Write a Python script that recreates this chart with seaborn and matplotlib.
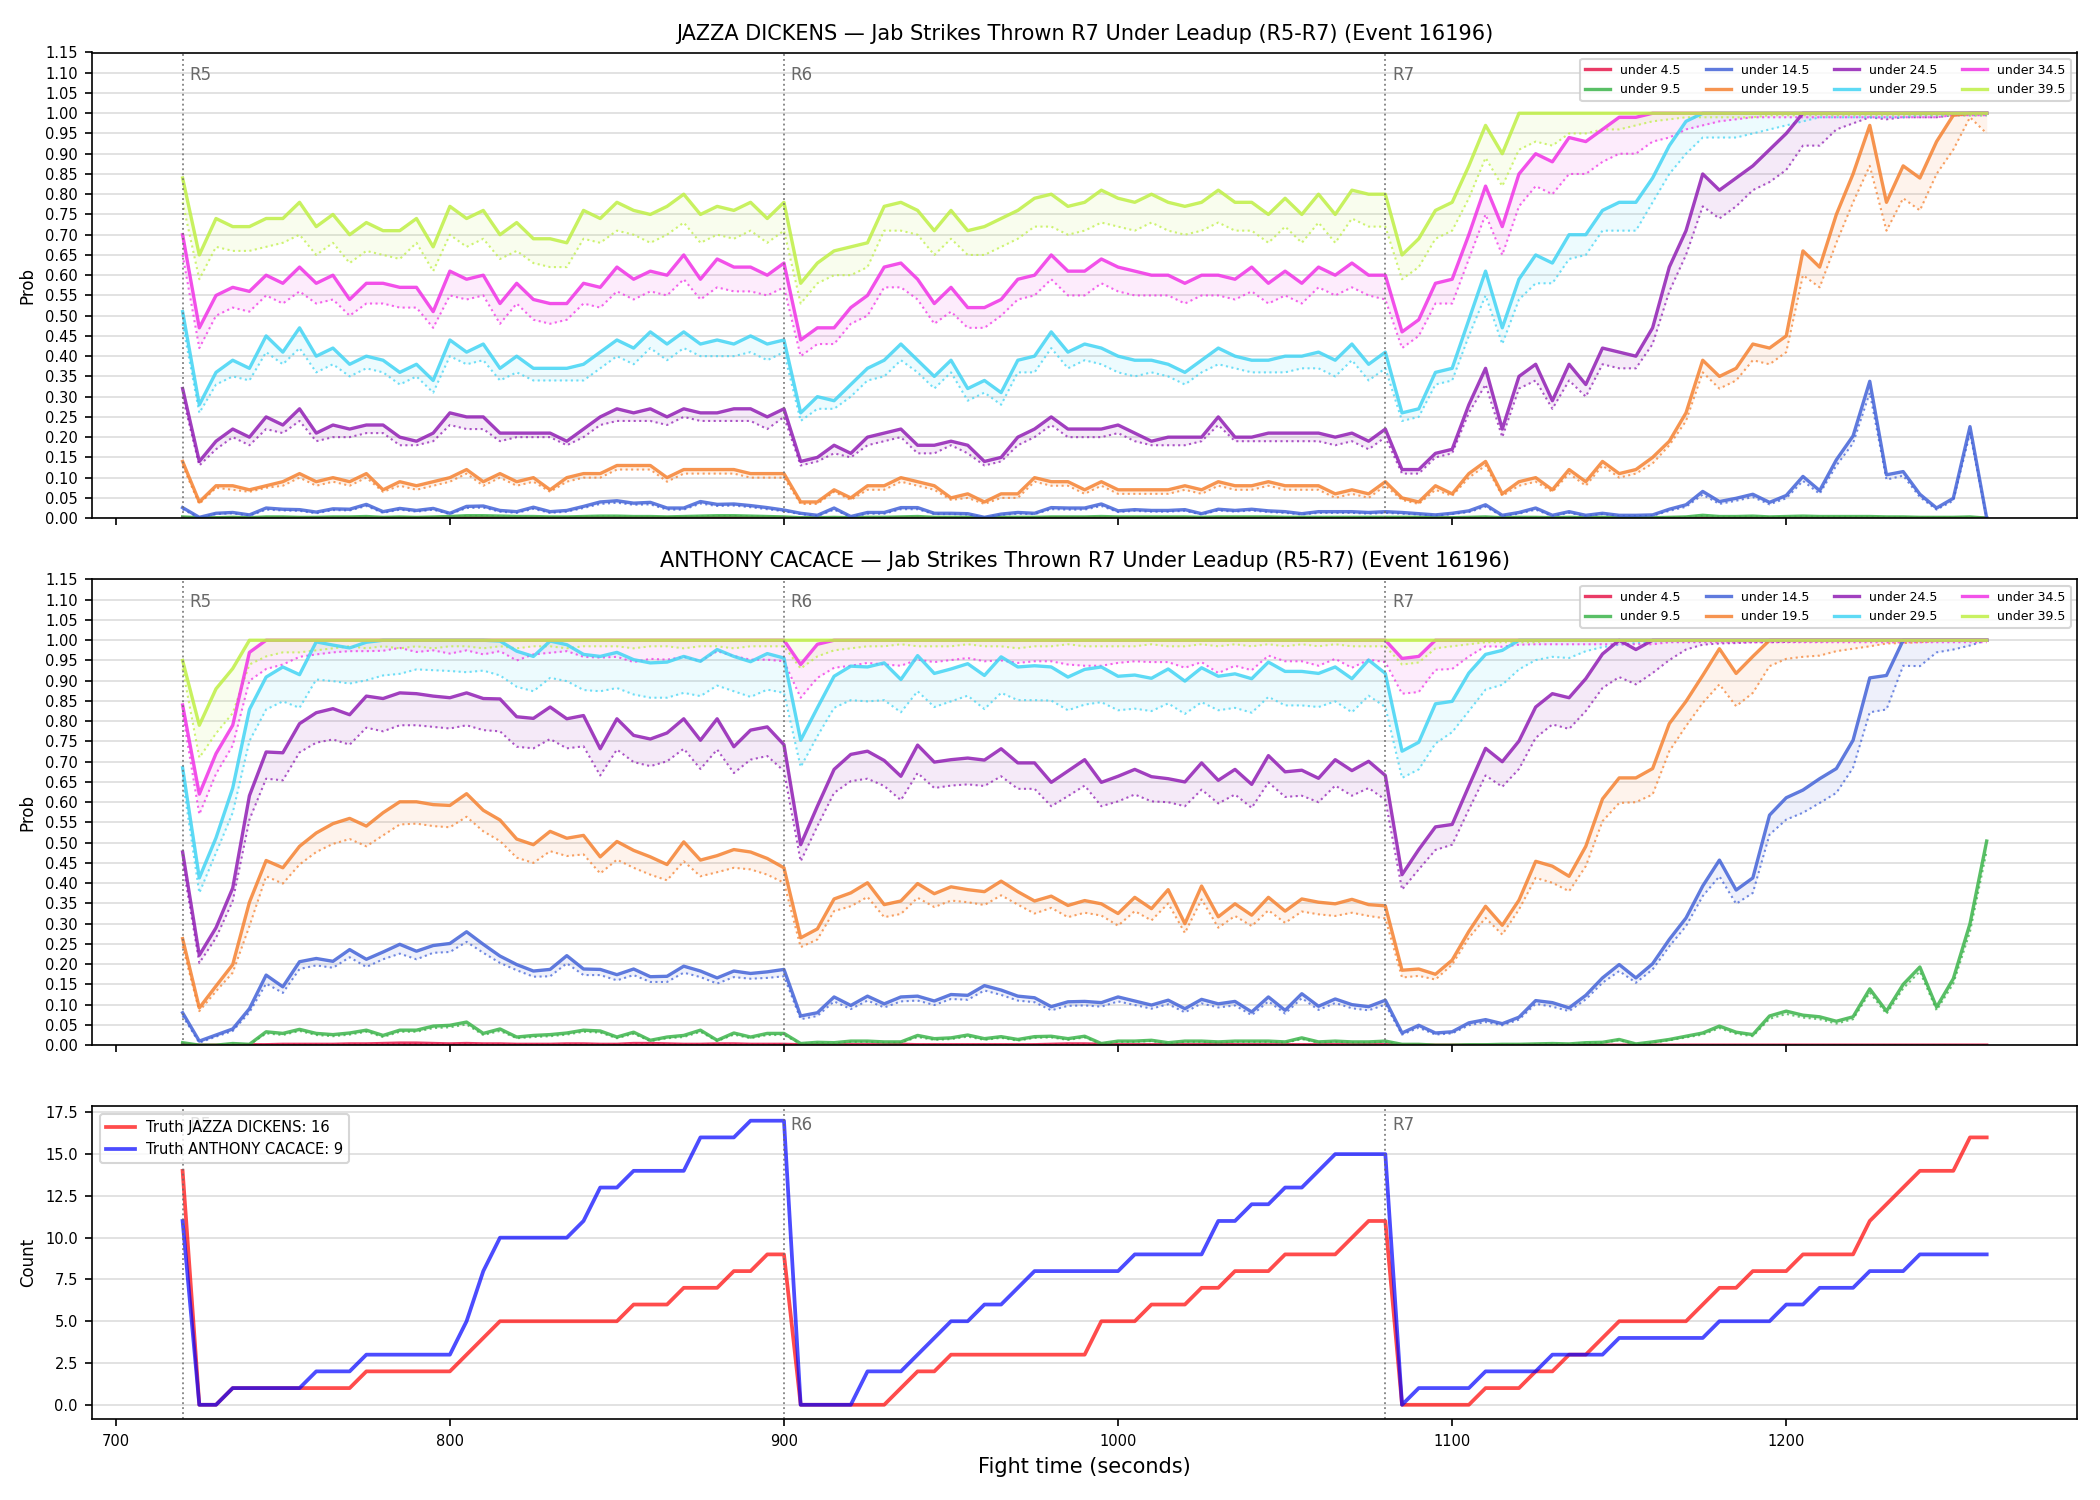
import numpy as np
import pandas as pd
import matplotlib
matplotlib.use("Agg")
import matplotlib.pyplot as plt
import seaborn as sns

# fight time grid, one sample every 5 s from R5 start to end of R7
fight_t = np.arange(720, 1261, 5)

thresholds = ['under 4.5', 'under 9.5', 'under 14.5', 'under 19.5',
              'under 24.5', 'under 29.5', 'under 34.5', 'under 39.5']
colors = ['#e6194b', '#3cb44b', '#4363d8', '#f58231',
          '#911eb4', '#42d4f4', '#f032e6', '#bfef45']

rounds = ['R5', 'R6', 'R7']
round_starts = [720, 900, 1080]

# ---------------- JAZZA DICKENS (top panel) ----------------
jd_u4 = ([0.001, 0.0, 0.0, 0.001, 0.0, 0.001, 0.001, 0.001, 0.001, 0.001,
          0.001, 0.001, 0.001, 0.001, 0.001, 0.001, 0.002, 0.002, 0.002, 0.001,
          0.001, 0.001, 0.001, 0.001, 0.001, 0.001, 0.001, 0.001, 0.001, 0.001,
          0.001, 0.001, 0.002, 0.002, 0.001, 0.001]
         + [0.001, 0.0, 0.0, 0.0, 0.0, 0.0, 0.0, 0.001, 0.001, 0.0,
            0.0, 0.0, 0.0, 0.0, 0.0, 0.0, 0.001, 0.001, 0.001, 0.001,
            0.001, 0.001, 0.001, 0.001, 0.001, 0.0, 0.001, 0.001, 0.001, 0.001,
            0.0, 0.0, 0.0, 0.0, 0.0, 0.0]
         + [0.0] * 37)
jd_u4_lo = [v * 0.5 for v in jd_u4]

jd_u9 = [0.003, 0.001, 0.001, 0.002, 0.001, 0.003, 0.003, 0.002, 0.002, 0.003,
         0.003, 0.004, 0.002, 0.003, 0.002, 0.003, 0.004, 0.006, 0.006, 0.005,
         0.004, 0.004, 0.003, 0.003, 0.004, 0.005, 0.005, 0.004, 0.004, 0.003,
         0.004, 0.005, 0.006, 0.006, 0.005, 0.004,
         0.003, 0.001, 0.001, 0.002, 0.001, 0.002, 0.002, 0.003, 0.004, 0.002,
         0.002, 0.002, 0.001, 0.002, 0.002, 0.002, 0.003, 0.003, 0.003, 0.004,
         0.003, 0.003, 0.003, 0.003, 0.003, 0.002, 0.003, 0.003, 0.003, 0.003,
         0.002, 0.002, 0.002, 0.002, 0.002, 0.002,
         0.002, 0.002, 0.002, 0.001, 0.001, 0.002, 0.003, 0.001, 0.002, 0.002,
         0.001, 0.002, 0.001, 0.002, 0.001, 0.001, 0.001, 0.002, 0.003, 0.007,
         0.004, 0.004, 0.005, 0.003, 0.004, 0.005, 0.004, 0.004, 0.004, 0.004,
         0.003, 0.003, 0.002, 0.002, 0.002, 0.003, 0.0]
jd_u9_lo = [0.002, 0.001, 0.001, 0.001, 0.001, 0.002, 0.002, 0.001, 0.001, 0.002,
            0.002, 0.003, 0.001, 0.002, 0.001, 0.002, 0.003, 0.005, 0.005, 0.004,
            0.003, 0.003, 0.002, 0.002, 0.003, 0.004, 0.004, 0.003, 0.003, 0.002,
            0.003, 0.004, 0.005, 0.005, 0.004, 0.003,
            0.002, 0.001, 0.001, 0.001, 0.001, 0.001, 0.001, 0.002, 0.003, 0.001,
            0.001, 0.001, 0.001, 0.001, 0.001, 0.001, 0.002, 0.002, 0.002, 0.003,
            0.002, 0.002, 0.002, 0.002, 0.002, 0.001, 0.002, 0.002, 0.002, 0.002,
            0.001, 0.001, 0.001, 0.001, 0.001, 0.001,
            0.001, 0.001, 0.001, 0.001, 0.001, 0.001, 0.002, 0.001, 0.001, 0.001,
            0.001, 0.001, 0.001, 0.001, 0.001, 0.001, 0.001, 0.001, 0.002, 0.005,
            0.003, 0.003, 0.004, 0.002, 0.003, 0.004, 0.003, 0.003, 0.003, 0.003,
            0.002, 0.002, 0.001, 0.001, 0.001, 0.002, 0.0]

jd_u14 = [0.026, 0.002, 0.012, 0.014, 0.008, 0.025, 0.022, 0.021, 0.015, 0.023,
          0.022, 0.034, 0.016, 0.024, 0.019, 0.024, 0.012, 0.029, 0.030, 0.019,
          0.016, 0.027, 0.016, 0.019, 0.029, 0.040, 0.043, 0.037, 0.039, 0.025,
          0.025, 0.041, 0.034, 0.035, 0.031, 0.026,
          0.020, 0.012, 0.007, 0.025, 0.004, 0.014, 0.014, 0.026, 0.026, 0.012,
          0.012, 0.011, 0.002, 0.010, 0.014, 0.012, 0.026, 0.025, 0.025, 0.035,
          0.018, 0.021, 0.019, 0.019, 0.021, 0.011, 0.022, 0.019, 0.022, 0.018,
          0.016, 0.011, 0.016, 0.016, 0.016, 0.014,
          0.016, 0.014, 0.011, 0.008, 0.012, 0.018, 0.033, 0.007, 0.014, 0.025,
          0.007, 0.016, 0.007, 0.012, 0.007, 0.007, 0.008, 0.022, 0.033, 0.066,
          0.041, 0.049, 0.059, 0.039, 0.056, 0.103, 0.068, 0.144, 0.203, 0.338,
          0.107, 0.115, 0.059, 0.025, 0.049, 0.226, 0.0]
jd_u14_lo = [0.022, 0.001, 0.010, 0.012, 0.006, 0.021, 0.019, 0.018, 0.012, 0.020,
             0.019, 0.030, 0.013, 0.021, 0.016, 0.021, 0.010, 0.025, 0.026, 0.016,
             0.013, 0.023, 0.013, 0.016, 0.025, 0.035, 0.038, 0.033, 0.034, 0.021,
             0.021, 0.036, 0.030, 0.031, 0.027, 0.022,
             0.017, 0.010, 0.005, 0.021, 0.003, 0.011, 0.011, 0.022, 0.022, 0.010,
             0.010, 0.009, 0.001, 0.008, 0.011, 0.010, 0.022, 0.021, 0.021, 0.030,
             0.015, 0.018, 0.016, 0.016, 0.018, 0.009, 0.019, 0.016, 0.019, 0.015,
             0.013, 0.009, 0.013, 0.013, 0.013, 0.011,
             0.013, 0.011, 0.009, 0.006, 0.010, 0.015, 0.028, 0.005, 0.011, 0.021,
             0.005, 0.013, 0.005, 0.010, 0.005, 0.005, 0.006, 0.018, 0.028, 0.058,
             0.035, 0.043, 0.052, 0.034, 0.049, 0.092, 0.060, 0.130, 0.185, 0.310,
             0.095, 0.105, 0.052, 0.021, 0.043, 0.210, 0.0]

jd_u19 = [0.14, 0.04, 0.08, 0.08, 0.07, 0.08, 0.09, 0.11, 0.09, 0.10,
          0.09, 0.11, 0.07, 0.09, 0.08, 0.09, 0.10, 0.12, 0.09, 0.11,
          0.09, 0.10, 0.07, 0.10, 0.11, 0.11, 0.13, 0.13, 0.13, 0.10,
          0.12, 0.12, 0.12, 0.12, 0.11, 0.11,
          0.11, 0.04, 0.04, 0.07, 0.05, 0.08, 0.08, 0.10, 0.09, 0.08,
          0.05, 0.06, 0.04, 0.06, 0.06, 0.10, 0.09, 0.09, 0.07, 0.09,
          0.07, 0.07, 0.07, 0.07, 0.08, 0.07, 0.09, 0.08, 0.08, 0.09,
          0.08, 0.08, 0.08, 0.06, 0.07, 0.06,
          0.09, 0.05, 0.04, 0.08, 0.06, 0.11, 0.14, 0.06, 0.09, 0.10,
          0.07, 0.12, 0.09, 0.14, 0.11, 0.12, 0.15, 0.19, 0.26, 0.39,
          0.35, 0.37, 0.43, 0.42, 0.45, 0.66, 0.62, 0.75, 0.85, 0.97,
          0.78, 0.87, 0.84, 0.93, 0.995, 1.0, 1.0]
jd_u19_lo = [0.13, 0.035, 0.075, 0.07, 0.065, 0.075, 0.08, 0.10, 0.08, 0.09,
             0.08, 0.10, 0.065, 0.08, 0.07, 0.08, 0.09, 0.11, 0.08, 0.10,
             0.08, 0.09, 0.065, 0.09, 0.10, 0.10, 0.12, 0.12, 0.12, 0.09,
             0.11, 0.11, 0.11, 0.11, 0.10, 0.10,
             0.10, 0.035, 0.035, 0.065, 0.045, 0.07, 0.07, 0.09, 0.08, 0.07,
             0.045, 0.05, 0.035, 0.05, 0.05, 0.09, 0.08, 0.08, 0.06, 0.08,
             0.06, 0.06, 0.06, 0.06, 0.07, 0.06, 0.08, 0.07, 0.07, 0.08,
             0.07, 0.07, 0.07, 0.05, 0.06, 0.05,
             0.08, 0.045, 0.035, 0.07, 0.055, 0.10, 0.13, 0.055, 0.08, 0.09,
             0.065, 0.11, 0.08, 0.13, 0.10, 0.11, 0.135, 0.18, 0.24, 0.36,
             0.32, 0.34, 0.39, 0.38, 0.41, 0.60, 0.57, 0.68, 0.78, 0.87,
             0.71, 0.79, 0.76, 0.85, 0.91, 0.99, 0.95]

jd_u24 = ([0.32, 0.14, 0.19, 0.22, 0.20, 0.25, 0.23, 0.27, 0.21, 0.23,
           0.22, 0.23, 0.23, 0.20, 0.19, 0.21, 0.26, 0.25, 0.25, 0.21,
           0.21, 0.21, 0.21, 0.19, 0.22, 0.25, 0.27, 0.26, 0.27, 0.25,
           0.27, 0.26, 0.26, 0.27, 0.27, 0.25,
           0.27, 0.14, 0.15, 0.18, 0.16, 0.20, 0.21, 0.22, 0.18, 0.18,
           0.19, 0.18, 0.14, 0.15, 0.20, 0.22, 0.25, 0.22, 0.22, 0.22,
           0.23, 0.21, 0.19, 0.20, 0.20, 0.20, 0.25, 0.20, 0.20, 0.21,
           0.21, 0.21, 0.21, 0.20, 0.21, 0.19,
           0.22, 0.12, 0.12, 0.16, 0.17, 0.28, 0.37, 0.22, 0.35, 0.38,
           0.29, 0.38, 0.33, 0.42, 0.41, 0.40, 0.47, 0.62, 0.71, 0.85,
           0.81, 0.84, 0.87, 0.91, 0.95] + [1.0] * 12)
jd_u24_lo = [0.30, 0.13, 0.17, 0.20, 0.18, 0.22, 0.21, 0.24, 0.19, 0.20,
             0.20, 0.21, 0.21, 0.18, 0.18, 0.19, 0.23, 0.22, 0.22, 0.19,
             0.20, 0.20, 0.20, 0.18, 0.20, 0.23, 0.24, 0.24, 0.24, 0.23,
             0.25, 0.24, 0.24, 0.24, 0.24, 0.22,
             0.25, 0.13, 0.14, 0.16, 0.15, 0.18, 0.19, 0.20, 0.16, 0.16,
             0.18, 0.16, 0.13, 0.14, 0.18, 0.20, 0.23, 0.20, 0.20, 0.20,
             0.21, 0.19, 0.18, 0.18, 0.18, 0.19, 0.23, 0.19, 0.19, 0.19,
             0.19, 0.19, 0.19, 0.18, 0.19, 0.17,
             0.20, 0.11, 0.11, 0.15, 0.16, 0.26, 0.33, 0.20, 0.32, 0.34,
             0.27, 0.34, 0.30, 0.38, 0.37, 0.37, 0.43, 0.56, 0.65, 0.77,
             0.74, 0.77, 0.81, 0.83, 0.86, 0.92, 0.92, 0.96, 0.975, 0.99,
             0.985, 0.99, 0.99, 0.99, 0.995, 0.995, 0.995]

jd_u29 = ([0.51, 0.28, 0.36, 0.39, 0.37, 0.45, 0.41, 0.47, 0.40, 0.42,
           0.38, 0.40, 0.39, 0.36, 0.38, 0.34, 0.44, 0.41, 0.43, 0.37,
           0.40, 0.37, 0.37, 0.37, 0.38, 0.41, 0.44, 0.42, 0.46, 0.43,
           0.46, 0.43, 0.44, 0.43, 0.45, 0.43,
           0.44, 0.26, 0.30, 0.29, 0.33, 0.37, 0.39, 0.43, 0.39, 0.35,
           0.39, 0.32, 0.34, 0.31, 0.39, 0.40, 0.46, 0.41, 0.43, 0.42,
           0.40, 0.39, 0.39, 0.38, 0.36, 0.39, 0.42, 0.40, 0.39, 0.39,
           0.40, 0.40, 0.41, 0.39, 0.43, 0.38,
           0.41, 0.26, 0.27, 0.36, 0.37, 0.49, 0.61, 0.47, 0.59, 0.65,
           0.63, 0.70, 0.70, 0.76, 0.78, 0.78, 0.84, 0.92, 0.98] + [1.0] * 18)
jd_u29_lo = [0.48, 0.26, 0.33, 0.35, 0.34, 0.41, 0.38, 0.42, 0.36, 0.38,
             0.35, 0.37, 0.36, 0.33, 0.35, 0.31, 0.40, 0.38, 0.39, 0.34,
             0.36, 0.34, 0.34, 0.34, 0.34, 0.37, 0.40, 0.38, 0.42, 0.39,
             0.42, 0.40, 0.40, 0.40, 0.41, 0.39,
             0.41, 0.24, 0.27, 0.27, 0.30, 0.34, 0.35, 0.39, 0.36, 0.32,
             0.36, 0.29, 0.31, 0.28, 0.36, 0.36, 0.42, 0.37, 0.39, 0.38,
             0.36, 0.35, 0.36, 0.35, 0.33, 0.36, 0.38, 0.37, 0.36, 0.36,
             0.36, 0.37, 0.37, 0.35, 0.39, 0.34,
             0.37, 0.24, 0.25, 0.33, 0.34, 0.45, 0.55, 0.43, 0.54, 0.58,
             0.58, 0.64, 0.65, 0.71, 0.71, 0.71, 0.78, 0.85, 0.90, 0.94,
             0.94, 0.94, 0.95, 0.96, 0.97, 0.98, 0.99, 0.99, 0.99, 0.99,
             0.99, 0.99, 0.995, 0.995, 0.995, 0.995, 0.995]

jd_u34 = ([0.70, 0.47, 0.55, 0.57, 0.56, 0.60, 0.58, 0.62, 0.58, 0.60,
           0.54, 0.58, 0.58, 0.57, 0.57, 0.51, 0.61, 0.59, 0.60, 0.53,
           0.58, 0.54, 0.53, 0.53, 0.58, 0.57, 0.62, 0.59, 0.61, 0.60,
           0.65, 0.59, 0.64, 0.62, 0.62, 0.60,
           0.63, 0.44, 0.47, 0.47, 0.52, 0.55, 0.62, 0.63, 0.59, 0.53,
           0.57, 0.52, 0.52, 0.54, 0.59, 0.60, 0.65, 0.61, 0.61, 0.64,
           0.62, 0.61, 0.60, 0.60, 0.58, 0.60, 0.60, 0.59, 0.62, 0.58,
           0.61, 0.58, 0.62, 0.60, 0.63, 0.60,
           0.60, 0.46, 0.49, 0.58, 0.59, 0.70, 0.82, 0.72, 0.85, 0.90,
           0.88, 0.94, 0.93, 0.96, 0.99, 0.99] + [1.0] * 21)
jd_u34_lo = [0.65, 0.42, 0.50, 0.52, 0.51, 0.55, 0.53, 0.56, 0.53, 0.54,
             0.50, 0.53, 0.53, 0.52, 0.52, 0.47, 0.55, 0.54, 0.55, 0.48,
             0.53, 0.49, 0.48, 0.49, 0.53, 0.52, 0.56, 0.54, 0.56, 0.55,
             0.59, 0.54, 0.57, 0.56, 0.56, 0.55,
             0.57, 0.40, 0.43, 0.43, 0.48, 0.50, 0.57, 0.57, 0.54, 0.48,
             0.51, 0.47, 0.47, 0.50, 0.54, 0.55, 0.59, 0.55, 0.55, 0.58,
             0.56, 0.55, 0.55, 0.55, 0.53, 0.55, 0.55, 0.54, 0.56, 0.53,
             0.55, 0.53, 0.57, 0.55, 0.57, 0.55,
             0.54, 0.42, 0.45, 0.53, 0.53, 0.64, 0.75, 0.65, 0.77, 0.82,
             0.80, 0.85, 0.85, 0.88, 0.90, 0.90, 0.93, 0.94, 0.96, 0.97,
             0.98, 0.985, 0.99, 0.99, 0.99, 0.99, 0.99, 0.99, 0.99, 0.99,
             0.99, 0.99, 0.99, 0.99, 0.995, 0.995, 0.995]

jd_u39 = ([0.84, 0.65, 0.74, 0.72, 0.72, 0.74, 0.74, 0.78, 0.72, 0.75,
           0.70, 0.73, 0.71, 0.71, 0.74, 0.67, 0.77, 0.74, 0.76, 0.70,
           0.73, 0.69, 0.69, 0.68, 0.76, 0.74, 0.78, 0.76, 0.75, 0.77,
           0.80, 0.75, 0.77, 0.76, 0.78, 0.74,
           0.78, 0.58, 0.63, 0.66, 0.67, 0.68, 0.77, 0.78, 0.76, 0.71,
           0.76, 0.71, 0.72, 0.74, 0.76, 0.79, 0.80, 0.77, 0.78, 0.81,
           0.79, 0.78, 0.80, 0.78, 0.77, 0.78, 0.81, 0.78, 0.78, 0.75,
           0.79, 0.75, 0.80, 0.75, 0.81, 0.80,
           0.80, 0.65, 0.69, 0.76, 0.78, 0.87, 0.97, 0.90] + [1.0] * 29)
jd_u39_lo = [0.78, 0.59, 0.67, 0.66, 0.66, 0.67, 0.68, 0.70, 0.65, 0.68,
             0.63, 0.66, 0.65, 0.64, 0.68, 0.61, 0.70, 0.67, 0.69, 0.64,
             0.66, 0.63, 0.62, 0.62, 0.69, 0.68, 0.71, 0.70, 0.68, 0.70,
             0.73, 0.68, 0.70, 0.69, 0.71, 0.68,
             0.71, 0.53, 0.58, 0.60, 0.60, 0.62, 0.71, 0.71, 0.70, 0.65,
             0.69, 0.65, 0.65, 0.67, 0.69, 0.72, 0.72, 0.70, 0.71, 0.73,
             0.72, 0.71, 0.73, 0.71, 0.70, 0.71, 0.73, 0.71, 0.71, 0.68,
             0.72, 0.68, 0.73, 0.68, 0.74, 0.72,
             0.72, 0.59, 0.62, 0.69, 0.71, 0.79, 0.89, 0.82, 0.91, 0.93,
             0.92, 0.95, 0.95, 0.96, 0.96, 0.97, 0.98, 0.985, 0.99, 0.99,
             0.99, 0.99, 0.99, 0.995, 0.995, 0.995, 0.995, 0.995, 0.995, 0.995,
             0.995, 0.995, 0.995, 0.995, 0.995, 0.995, 0.995]

# ---------------- ANTHONY CACACE (middle panel) ----------------
ac_u4 = ([0.002, 0.0, 0.0, 0.0, 0.001, 0.001, 0.002, 0.002, 0.002, 0.002,
          0.003, 0.003, 0.004, 0.005, 0.005, 0.004, 0.003, 0.004, 0.003, 0.003,
          0.002, 0.002, 0.002, 0.003, 0.003, 0.002, 0.002, 0.004, 0.004, 0.003,
          0.002, 0.002, 0.003, 0.003, 0.002, 0.002,
          0.002, 0.001, 0.001, 0.001, 0.001, 0.001, 0.001, 0.002, 0.001, 0.001,
          0.001, 0.001, 0.001, 0.001, 0.001, 0.001, 0.002, 0.003, 0.003, 0.002,
          0.001, 0.001, 0.001, 0.001, 0.001, 0.001, 0.002, 0.001, 0.001, 0.001,
          0.001, 0.001, 0.001, 0.001, 0.001, 0.001]
         + [0.001] * 3 + [0.0] * 34)
ac_u4_lo = [v * 0.6 for v in ac_u4]

ac_u9 = [0.006, 0.0, 0.0, 0.004, 0.002, 0.033, 0.029, 0.039, 0.029, 0.026,
         0.030, 0.037, 0.024, 0.037, 0.037, 0.047, 0.049, 0.057, 0.029, 0.040,
         0.020, 0.024, 0.026, 0.030, 0.037, 0.035, 0.020, 0.032, 0.012, 0.020,
         0.024, 0.037, 0.012, 0.030, 0.020, 0.029,
         0.029, 0.004, 0.007, 0.006, 0.010, 0.010, 0.008, 0.008, 0.024, 0.016,
         0.018, 0.025, 0.016, 0.021, 0.014, 0.021, 0.022, 0.016, 0.022, 0.004,
         0.010, 0.010, 0.012, 0.006, 0.010, 0.010, 0.008, 0.010, 0.010, 0.010,
         0.008, 0.018, 0.008, 0.010, 0.008, 0.008,
         0.010, 0.002, 0.002, 0.0, 0.0, 0.001, 0.001, 0.002, 0.002, 0.003,
         0.004, 0.003, 0.006, 0.007, 0.014, 0.003, 0.008, 0.014, 0.022, 0.030,
         0.047, 0.032, 0.026, 0.072, 0.084, 0.074, 0.070, 0.059, 0.070, 0.139,
         0.084, 0.150, 0.193, 0.094, 0.164, 0.300, 0.504]
ac_u9_lo = [0.004, 0.0, 0.0, 0.003, 0.001, 0.029, 0.025, 0.035, 0.025, 0.022,
            0.026, 0.033, 0.020, 0.033, 0.033, 0.042, 0.044, 0.051, 0.025, 0.035,
            0.017, 0.020, 0.022, 0.026, 0.033, 0.031, 0.017, 0.028, 0.010, 0.017,
            0.020, 0.033, 0.010, 0.026, 0.017, 0.025,
            0.025, 0.003, 0.005, 0.004, 0.008, 0.008, 0.006, 0.006, 0.020, 0.013,
            0.015, 0.021, 0.013, 0.018, 0.011, 0.018, 0.019, 0.013, 0.019, 0.003,
            0.008, 0.008, 0.010, 0.004, 0.008, 0.008, 0.006, 0.008, 0.008, 0.008,
            0.006, 0.015, 0.006, 0.008, 0.006, 0.006,
            0.008, 0.001, 0.001, 0.0, 0.0, 0.0, 0.0, 0.001, 0.001, 0.002,
            0.003, 0.002, 0.005, 0.006, 0.012, 0.002, 0.006, 0.012, 0.019, 0.026,
            0.042, 0.028, 0.022, 0.065, 0.077, 0.068, 0.064, 0.053, 0.064, 0.130,
            0.077, 0.140, 0.182, 0.086, 0.152, 0.280, 0.480]

ac_u14 = ([0.080, 0.010, 0.025, 0.040, 0.090, 0.173, 0.144, 0.206, 0.214, 0.207,
           0.236, 0.212, 0.230, 0.249, 0.232, 0.246, 0.251, 0.280, 0.249, 0.220,
           0.199, 0.183, 0.187, 0.221, 0.188, 0.187, 0.174, 0.188, 0.169, 0.170,
           0.195, 0.183, 0.166, 0.183, 0.177, 0.181,
           0.187, 0.072, 0.080, 0.119, 0.098, 0.121, 0.102, 0.119, 0.121, 0.109,
           0.125, 0.123, 0.147, 0.136, 0.121, 0.117, 0.095, 0.107, 0.108, 0.105,
           0.119, 0.109, 0.099, 0.111, 0.090, 0.113, 0.102, 0.108, 0.082, 0.119,
           0.086, 0.127, 0.096, 0.114, 0.100, 0.095,
           0.111, 0.030, 0.049, 0.030, 0.033, 0.055, 0.063, 0.053, 0.069, 0.110,
           0.105, 0.092, 0.123, 0.166, 0.199, 0.166, 0.201, 0.261, 0.314, 0.393,
           0.457, 0.383, 0.413, 0.568, 0.611, 0.630, 0.658, 0.683, 0.753, 0.907,
           0.913] + [1.0] * 6)
ac_u14_lo = [0.072, 0.006, 0.021, 0.035, 0.081, 0.152, 0.129, 0.188, 0.197, 0.191,
             0.217, 0.193, 0.212, 0.226, 0.212, 0.228, 0.230, 0.255, 0.228, 0.203,
             0.185, 0.169, 0.170, 0.202, 0.173, 0.173, 0.160, 0.173, 0.156, 0.156,
             0.179, 0.168, 0.152, 0.168, 0.164, 0.166,
             0.170, 0.064, 0.072, 0.108, 0.089, 0.110, 0.093, 0.108, 0.110, 0.099,
             0.114, 0.112, 0.135, 0.124, 0.110, 0.106, 0.086, 0.097, 0.098, 0.095,
             0.108, 0.099, 0.090, 0.101, 0.081, 0.103, 0.093, 0.098, 0.074, 0.108,
             0.078, 0.116, 0.087, 0.104, 0.091, 0.086,
             0.100, 0.026, 0.043, 0.026, 0.029, 0.049, 0.057, 0.049, 0.063, 0.102,
             0.095, 0.084, 0.113, 0.154, 0.183, 0.154, 0.187, 0.244, 0.294, 0.368,
             0.417, 0.349, 0.376, 0.520, 0.557, 0.574, 0.598, 0.623, 0.685, 0.822,
             0.829, 0.937, 0.936, 0.970, 0.977, 0.987, 1.0]

ac_u19 = ([0.263, 0.092, 0.146, 0.199, 0.353, 0.456, 0.438, 0.491, 0.524, 0.547,
           0.560, 0.541, 0.574, 0.601, 0.601, 0.594, 0.592, 0.621, 0.580, 0.556,
           0.509, 0.495, 0.528, 0.511, 0.518, 0.465, 0.503, 0.481, 0.465, 0.446,
           0.502, 0.457, 0.468, 0.483, 0.477, 0.461,
           0.438, 0.265, 0.287, 0.361, 0.376, 0.401, 0.347, 0.356, 0.399, 0.374,
           0.391, 0.384, 0.379, 0.405, 0.379, 0.356, 0.368, 0.345, 0.357, 0.349,
           0.325, 0.365, 0.337, 0.384, 0.300, 0.393, 0.317, 0.349, 0.321, 0.365,
           0.331, 0.361, 0.353, 0.349, 0.360, 0.347,
           0.344, 0.185, 0.188, 0.175, 0.210, 0.281, 0.343, 0.296, 0.358, 0.454,
           0.442, 0.417, 0.491, 0.608, 0.660, 0.660, 0.683, 0.794, 0.849, 0.913,
           0.979, 0.918, 0.960] + [1.0] * 14)
ac_u19_lo = [0.244, 0.084, 0.133, 0.179, 0.294, 0.417, 0.399, 0.446, 0.477, 0.497,
             0.509, 0.491, 0.518, 0.545, 0.547, 0.541, 0.538, 0.564, 0.528, 0.504,
             0.463, 0.450, 0.479, 0.467, 0.471, 0.424, 0.458, 0.438, 0.421, 0.407,
             0.454, 0.417, 0.427, 0.438, 0.434, 0.421,
             0.401, 0.242, 0.261, 0.331, 0.343, 0.366, 0.316, 0.324, 0.364, 0.341,
             0.357, 0.353, 0.346, 0.370, 0.347, 0.325, 0.339, 0.316, 0.327, 0.320,
             0.295, 0.331, 0.308, 0.350, 0.277, 0.360, 0.290, 0.319, 0.294, 0.333,
             0.302, 0.330, 0.323, 0.319, 0.327, 0.319,
             0.313, 0.167, 0.171, 0.162, 0.199, 0.265, 0.314, 0.273, 0.335, 0.413,
             0.401, 0.380, 0.442, 0.553, 0.598, 0.600, 0.619, 0.726, 0.788, 0.845,
             0.891, 0.837, 0.870, 0.936, 0.954, 0.959, 0.962, 0.973, 0.979, 0.985,
             0.992, 0.993, 0.995, 0.998, 0.999, 1.0, 1.0]

ac_u24 = ([0.477, 0.222, 0.290, 0.388, 0.616, 0.724, 0.722, 0.794, 0.821, 0.831,
           0.816, 0.862, 0.856, 0.870, 0.868, 0.862, 0.858, 0.870, 0.856, 0.855,
           0.811, 0.807, 0.835, 0.806, 0.814, 0.732, 0.806, 0.765, 0.756, 0.771,
           0.806, 0.753, 0.806, 0.737, 0.778, 0.786,
           0.742, 0.495, 0.590, 0.681, 0.718, 0.726, 0.703, 0.664, 0.741, 0.699,
           0.705, 0.709, 0.704, 0.732, 0.697, 0.697, 0.649, 0.677, 0.705, 0.649,
           0.664, 0.681, 0.663, 0.658, 0.650, 0.697, 0.654, 0.681, 0.644, 0.715,
           0.675, 0.679, 0.659, 0.705, 0.678, 0.701,
           0.666, 0.421, 0.483, 0.539, 0.545, 0.640, 0.733, 0.700, 0.751, 0.835,
           0.868, 0.858, 0.905, 0.966, 1.0, 0.977] + [1.0] * 21)
ac_u24_lo = [0.450, 0.203, 0.265, 0.356, 0.557, 0.658, 0.654, 0.723, 0.747, 0.755,
             0.742, 0.784, 0.775, 0.790, 0.790, 0.786, 0.782, 0.790, 0.778, 0.775,
             0.737, 0.733, 0.756, 0.733, 0.738, 0.666, 0.730, 0.699, 0.689, 0.701,
             0.732, 0.682, 0.730, 0.672, 0.705, 0.714,
             0.677, 0.454, 0.541, 0.623, 0.652, 0.658, 0.640, 0.605, 0.672, 0.635,
             0.641, 0.644, 0.640, 0.664, 0.633, 0.633, 0.590, 0.615, 0.641, 0.590,
             0.602, 0.619, 0.602, 0.600, 0.590, 0.631, 0.597, 0.619, 0.586, 0.649,
             0.613, 0.616, 0.600, 0.641, 0.616, 0.635,
             0.606, 0.384, 0.434, 0.482, 0.495, 0.582, 0.666, 0.638, 0.682, 0.759,
             0.792, 0.781, 0.825, 0.882, 0.909, 0.891, 0.919, 0.951, 0.977, 0.989,
             0.992, 0.993, 0.995, 0.995, 0.996, 0.997, 0.997, 0.998, 0.998, 0.998,
             0.998, 0.999, 0.999, 0.999, 1.0, 1.0, 1.0]

ac_u29 = ([0.685, 0.413, 0.512, 0.635, 0.829, 0.909, 0.934, 0.915, 0.996, 0.988,
           0.981, 0.995, 1.0, 1.0, 1.0, 1.0, 1.0, 1.0, 1.0, 0.998,
           0.973, 0.960, 0.998, 0.989, 0.965, 0.960, 0.970, 0.952, 0.944, 0.946,
           0.960, 0.948, 0.977, 0.960, 0.947, 0.967,
           0.956, 0.753, 0.833, 0.911, 0.936, 0.934, 0.944, 0.903, 0.962, 0.918,
           0.929, 0.942, 0.913, 0.959, 0.934, 0.937, 0.934, 0.909, 0.928, 0.934,
           0.911, 0.914, 0.906, 0.929, 0.899, 0.932, 0.911, 0.917, 0.905, 0.946,
           0.923, 0.923, 0.918, 0.934, 0.905, 0.951,
           0.918, 0.726, 0.748, 0.843, 0.849, 0.919, 0.965, 0.975] + [1.0] * 29)
ac_u29_lo = [0.656, 0.376, 0.475, 0.574, 0.751, 0.829, 0.849, 0.833, 0.903, 0.899,
             0.893, 0.901, 0.913, 0.917, 0.928, 0.926, 0.924, 0.921, 0.925, 0.913,
             0.885, 0.874, 0.907, 0.899, 0.877, 0.874, 0.882, 0.866, 0.858, 0.858,
             0.870, 0.862, 0.888, 0.874, 0.860, 0.878,
             0.870, 0.687, 0.763, 0.833, 0.852, 0.849, 0.852, 0.822, 0.874, 0.835,
             0.849, 0.863, 0.830, 0.870, 0.852, 0.852, 0.851, 0.827, 0.841, 0.847,
             0.827, 0.831, 0.825, 0.844, 0.818, 0.847, 0.827, 0.833, 0.821, 0.860,
             0.839, 0.839, 0.835, 0.849, 0.822, 0.863,
             0.835, 0.660, 0.681, 0.745, 0.773, 0.825, 0.878, 0.890, 0.928, 0.951,
             0.959, 0.956, 0.973, 0.983, 0.989, 0.993, 0.997, 0.997, 0.997, 0.997,
             0.998, 0.998, 0.998, 0.998, 0.998, 0.999, 0.999, 0.999, 0.999, 0.999,
             1.0, 1.0, 1.0, 1.0, 1.0, 1.0, 1.0]

ac_u34 = ([0.84, 0.62, 0.72, 0.79, 0.97] + [1.0] * 32 + [0.94, 0.99]
          + [1.0] * 34 + [0.955, 0.96] + [1.0] * 34)
ac_u34_lo = [0.82, 0.57, 0.67, 0.74, 0.90, 0.929, 0.940, 0.959, 0.965, 0.970,
             0.973, 0.973, 0.974, 0.981, 0.971, 0.975, 0.967, 0.975, 0.965, 0.973,
             0.950, 0.965, 0.969, 0.973, 0.959, 0.957, 0.959, 0.946, 0.954, 0.952,
             0.959, 0.948, 0.973, 0.961, 0.952, 0.952,
             0.948, 0.858, 0.907, 0.932, 0.937, 0.944, 0.940, 0.937, 0.952, 0.946,
             0.951, 0.956, 0.948, 0.950, 0.944, 0.948, 0.948, 0.940, 0.937, 0.937,
             0.944, 0.948, 0.946, 0.946, 0.932, 0.946, 0.919, 0.937, 0.926, 0.962,
             0.948, 0.948, 0.937, 0.954, 0.932, 0.952,
             0.946, 0.868, 0.872, 0.927, 0.929, 0.960, 0.985, 0.984, 0.989, 0.99,
             0.99, 0.99, 0.99, 0.99, 0.99, 0.99, 0.99, 0.995, 0.995, 0.995,
             0.995, 0.995, 0.995, 0.995, 0.995, 0.995, 0.995, 0.995, 0.995, 0.995,
             0.995, 0.995, 0.995, 0.995, 0.995, 0.995, 0.995]

ac_u39 = [0.95, 0.79, 0.88, 0.93] + [1.0] * 105
ac_u39_lo = ([0.93, 0.71, 0.77, 0.82, 0.94, 0.96, 0.97, 0.97, 0.975, 0.98,
              0.985, 0.98, 0.985, 0.98, 0.985, 0.98, 0.985, 0.985, 0.98, 0.985,
              0.98, 0.985, 0.985, 0.98, 0.985, 0.985, 0.985, 0.98, 0.985, 0.985,
              0.98, 0.985, 0.985, 0.98, 0.985, 0.985,
              0.985, 0.93, 0.96, 0.975, 0.98, 0.985, 0.985, 0.99, 0.985, 0.985,
              0.985, 0.99, 0.985, 0.985, 0.98, 0.985, 0.985, 0.99, 0.985, 0.985,
              0.985, 0.985, 0.99, 0.985, 0.985, 0.99, 0.985, 0.99, 0.985, 0.99,
              0.985, 0.99, 0.985, 0.99, 0.985, 0.985,
              0.985, 0.94, 0.945, 0.98, 0.985, 0.99, 0.995, 0.995, 0.995, 0.995]
             + [1.0] * 27)

# ---------------- actual counts (bottom panel) ----------------
truth_jd = [14, 0, 0, 1, 1, 1, 1, 1, 1, 1, 1, 2, 2, 2, 2, 2, 2, 3, 4, 5,
            5, 5, 5, 5, 5, 5, 5, 6, 6, 6, 7, 7, 7, 8, 8, 9,
            9, 0, 0, 0, 0, 0, 0, 1, 2, 2, 3, 3, 3, 3, 3, 3, 3, 3, 3, 5,
            5, 5, 6, 6, 6, 7, 7, 8, 8, 8, 9, 9, 9, 9, 10, 11,
            11, 0, 0, 0, 0, 0, 1, 1, 1, 2, 2, 3, 3, 4, 5, 5, 5, 5, 5, 6,
            7, 7, 8, 8, 8, 9, 9, 9, 9, 11, 12, 13, 14, 14, 14, 16, 16]
truth_ac = [11, 0, 0, 1, 1, 1, 1, 1, 2, 2, 2, 3, 3, 3, 3, 3, 3, 5, 8, 10,
            10, 10, 10, 10, 11, 13, 13, 14, 14, 14, 14, 16, 16, 16, 17, 17,
            17, 0, 0, 0, 0, 2, 2, 2, 3, 4, 5, 5, 6, 6, 7, 8, 8, 8, 8, 8,
            8, 9, 9, 9, 9, 9, 11, 11, 12, 12, 13, 13, 14, 15, 15, 15,
            15, 0, 1, 1, 1, 1, 2, 2, 2, 2, 3, 3, 3, 3, 4, 4, 4, 4, 4, 4,
            5, 5, 5, 5, 6, 6, 7, 7, 7, 8, 8, 8, 9, 9, 9, 9, 9]

jd_main = [jd_u4, jd_u9, jd_u14, jd_u19, jd_u24, jd_u29, jd_u34, jd_u39]
jd_low = [jd_u4_lo, jd_u9_lo, jd_u14_lo, jd_u19_lo, jd_u24_lo, jd_u29_lo, jd_u34_lo, jd_u39_lo]
ac_main = [ac_u4, ac_u9, ac_u14, ac_u19, ac_u24, ac_u29, ac_u34, ac_u39]
ac_low = [ac_u4_lo, ac_u9_lo, ac_u14_lo, ac_u19_lo, ac_u24_lo, ac_u29_lo, ac_u34_lo, ac_u39_lo]


def mark_rounds(ax, fontsize=8):
    for label, t in zip(rounds, round_starts):
        ax.axvline(t, color='dimgray', linestyle=':', linewidth=0.9, alpha=0.8)
        ax.text(t + 2, 0.97, label, transform=ax.get_xaxis_transform(),
                color='dimgray', fontsize=fontsize, va='top', ha='left')


def prob_panel(ax, mains, lows, fighter):
    rows = []
    for name, col, hi, lo in zip(thresholds, colors, mains, lows):
        ax.fill_between(fight_t, lo, hi, color=col, alpha=0.09, linewidth=0)
        ax.plot(fight_t, lo, color=col, linestyle=':', linewidth=1.0, alpha=0.75)
        rows.append(pd.DataFrame({'t': fight_t, 'p': hi, 'line': name}))
    df = pd.concat(rows, ignore_index=True)
    sns.lineplot(data=df, x='t', y='p', hue='line', hue_order=thresholds,
                 palette=colors, linewidth=1.6, alpha=0.85, ax=ax, errorbar=None)
    ax.set_ylim(0, 1.15)
    ax.set_yticks(np.round(np.arange(0, 1.151, 0.05), 2))
    ax.yaxis.set_major_formatter(matplotlib.ticker.FormatStrFormatter('%.2f'))
    ax.grid(axis='y', color='#dddddd', linewidth=0.8)
    ax.set_axisbelow(True)
    ax.set_ylabel('Prob', fontsize=8)
    ax.set_xlabel('')
    ax.tick_params(labelsize=7)
    ax.set_title(f'{fighter} \u2014 Jab Strikes Thrown R7 Under Leadup (R5-R7) (Event 16196)',
                 fontsize=10)
    mark_rounds(ax)
    ax.legend(ncol=4, loc='upper right', fontsize=6, framealpha=0.8)


fig, axes = plt.subplots(3, 1, figsize=(14, 10), dpi=150, sharex=True,
                         gridspec_kw={'height_ratios': [1.49, 1.49, 1.0]})
plt.subplots_adjust(left=0.044, right=0.989, top=0.965, bottom=0.054, hspace=0.148)

prob_panel(axes[0], jd_main, jd_low, 'JAZZA DICKENS')
prob_panel(axes[1], ac_main, ac_low, 'ANTHONY CACACE')

ax = axes[2]
truth = pd.concat([
    pd.DataFrame({'t': fight_t, 'count': truth_jd, 'who': 'Truth JAZZA DICKENS: 16'}),
    pd.DataFrame({'t': fight_t, 'count': truth_ac, 'who': 'Truth ANTHONY CACACE: 9'}),
], ignore_index=True)
sns.lineplot(data=truth, x='t', y='count', hue='who',
             palette=['red', 'blue'], linewidth=1.8, alpha=0.7, ax=ax, errorbar=None)
ax.grid(axis='y', color='#dddddd', linewidth=0.8)
ax.set_axisbelow(True)
ax.set_ylabel('Count', fontsize=8)
ax.set_xlabel('Fight time (seconds)', fontsize=10)
ax.tick_params(labelsize=7)
mark_rounds(ax)
leg = ax.legend(loc='upper left', fontsize=7, framealpha=0.8)
leg.set_zorder(5)

fig.savefig('out.png', dpi=150)
